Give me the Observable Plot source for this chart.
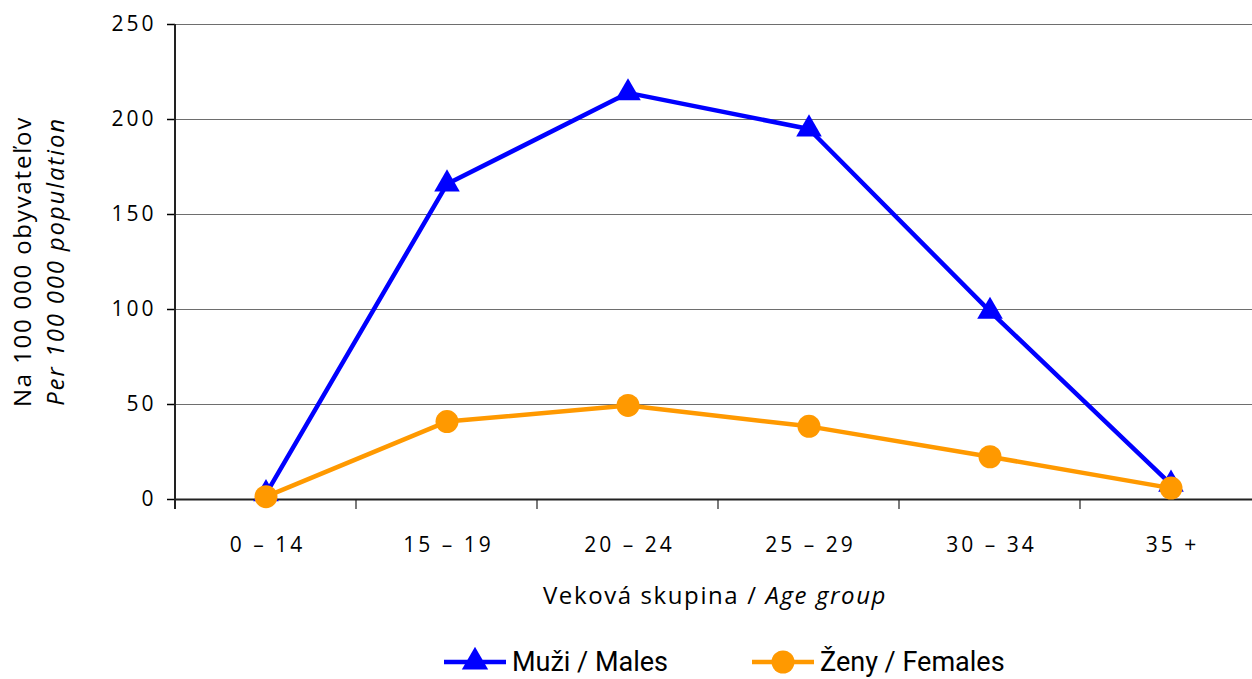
<!DOCTYPE html>
<html>
<head>
<meta charset="utf-8">
<script src="https://cdn.jsdelivr.net/npm/d3@7"></script>
<script src="https://cdn.jsdelivr.net/npm/@observablehq/plot@0.6"></script>
<style>
  html, body { margin: 0; padding: 0; background: #fff; }
  #chart { width: 1252px; height: 640px; overflow: hidden; }
  #legend { position: relative; width: 1252px; height: 39px; font-family: Roboto, "Noto Sans", sans-serif; font-size: 27px; color: #000; }
  .item { position: absolute; top: 4px; display: flex; align-items: center; height: 36px; }
  .item svg { margin-right: 5px; }
</style>
</head>
<body>
<div id="chart"></div>
<div id="legend"></div>
<script>
const ageGroups = ["0 – 14", "15 – 19", "20 – 24", "25 – 29", "30 – 34", "35 +"];
const males = [3, 166, 214, 195, 99, 8];
const females = [1.5, 41, 49.5, 38.5, 22.5, 6];
const yTicks = [0, 50, 100, 150, 200, 250];
const gridTicks = [50, 100, 150, 200, 250];
const seriesNames = ["Muži / Males", "Ženy / Females"];
const seriesColors = ["#0000ff", "#ff9900"];

const maleData = ageGroups.map((g, i) => ({group: g, value: males[i]}));
const femaleData = ageGroups.map((g, i) => ({group: g, value: females[i]}));

const font = "'Open Sans', 'Noto Sans', sans-serif";

const chart = Plot.plot({
  width: 1252,
  height: 640,
  marginLeft: 175,
  marginRight: 0,
  marginTop: 24,
  marginBottom: 141,
  style: {fontFamily: font, fontSize: "21px", color: "#000", background: "#fff", overflow: "visible", letterSpacing: "3px"},
  x: {type: "band", domain: ageGroups, range: [175, 1261], padding: 0, label: null},
  y: {domain: [0, 250], label: null},
  marks: [
    Plot.ruleY(gridTicks, {stroke: "#6e6e6e", strokeWidth: 1.2}),
    Plot.axisY({ticks: yTicks, tickSize: 8, tickPadding: 11, fontSize: 21, stroke: "#000", strokeWidth: 1.5, label: null}),
    Plot.axisX({tickSize: 0, tickPadding: 38, fontSize: 21, label: null, dx: 1.5}),
    Plot.ruleY([0], {stroke: "#222", strokeWidth: 2}),
    Plot.line(maleData, {x: "group", y: "value", stroke: seriesColors[0], strokeWidth: 4.5}),
    Plot.dot(maleData, {x: "group", y: "value", symbol: "triangle", r: 9.5, fill: seriesColors[0], stroke: "none"}),
    Plot.line(femaleData, {x: "group", y: "value", stroke: seriesColors[1], strokeWidth: 4.5}),
    Plot.dot(femaleData, {x: "group", y: "value", r: 11.5, fill: seriesColors[1], stroke: "none"})
  ]
});

// Axis line, band boundary ticks and titles derived from the scales
const svg = d3.select(chart);
const xs = chart.scale("x");
const ys = chart.scale("y");
const y0 = ys.apply(0), yTop = ys.apply(250);
const x0 = xs.apply(ageGroups[0]);
const g = svg.append("g");
g.append("line").attr("x1", x0).attr("x2", x0).attr("y1", yTop).attr("y2", y0 + 10)
  .attr("stroke", "#222").attr("stroke-width", 2);
ageGroups.slice(1).forEach(a => {
  const xb = xs.apply(a);
  g.append("line").attr("x1", xb).attr("x2", xb).attr("y1", y0).attr("y2", y0 + 10)
    .attr("stroke", "#222").attr("stroke-width", 1.2);
});
// x title
const xt = g.append("text").attr("x", (x0 + 1261) / 2 - 3).attr("y", y0 + 105)
  .attr("text-anchor", "middle").attr("font-size", 24).attr("letter-spacing", "1.6px")
  .attr("font-family", font).attr("fill", "#000");
xt.append("tspan").text("Veková skupina / ");
xt.append("tspan").attr("font-style", "italic").text("Age group");
// y title
const ymid = (y0 + yTop) / 2;
const yt = g.append("text").attr("transform", `translate(0,${ymid}) rotate(-90)`)
  .attr("text-anchor", "middle").attr("font-size", 24).attr("letter-spacing", "1.8px")
  .attr("font-family", font).attr("fill", "#000");
yt.append("tspan").attr("x", 0).attr("y", 31).text("Na 100 000 obyvateľov");
yt.append("tspan").attr("x", 0).attr("y", 64).attr("font-style", "italic").text("Per 100 000 population");

document.getElementById("chart").append(chart);

// Legend
const legend = d3.select("#legend");
const lefts = [443, 751];
seriesNames.forEach((name, i) => {
  const item = legend.append("div").attr("class", "item").style("left", lefts[i] + "px");
  const s = item.append("svg").attr("width", 64).attr("height", 30);
  s.append("line").attr("x1", 1).attr("x2", 63).attr("y1", 15).attr("y2", 15)
    .attr("stroke", seriesColors[i]).attr("stroke-width", 4.5);
  if (i === 0) {
    s.append("path").attr("d", d3.symbol(d3.symbolTriangle, 300)()).attr("transform", "translate(32,15)").attr("fill", seriesColors[i]);
  } else {
    s.append("circle").attr("cx", 32).attr("cy", 15).attr("r", 11.5).attr("fill", seriesColors[i]);
  }
  item.append("span").text(name);
});
</script>
</body>
</html>
